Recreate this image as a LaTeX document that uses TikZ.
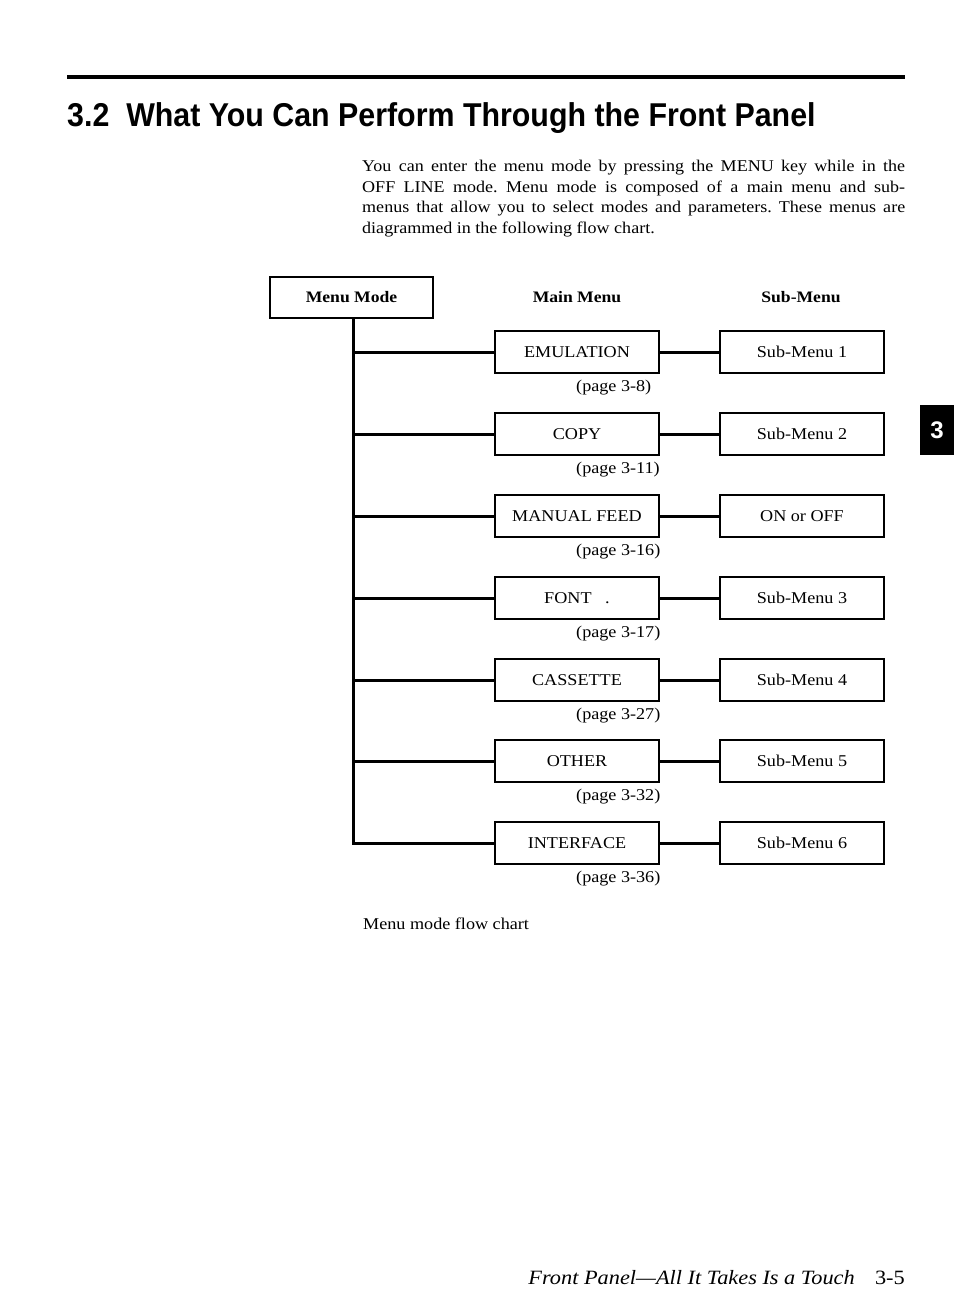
\documentclass[tikz,border=0pt]{standalone}
\usepackage{fontspec}
\setmainfont[FakeStretch=1.1]{Liberation Serif}
\newfontfamily\headfont{Liberation Sans}
\usetikzlibrary{positioning}
\frenchspacing
\tikzstyle{menubox} = [draw, line width=1.3pt, minimum width=164pt, minimum height=42pt, inner sep=0pt, font=\fontsize{16.5}{19}\selectfont]
\tikzstyle{link} = [line width=3pt, line join=miter]
\tikzstyle{pagelabel} = [anchor=west, inner sep=0pt, font=\fontsize{16.5}{19}\selectfont]
\tikzstyle{colhead} = [inner sep=0pt, font=\bfseries\fontsize{16}{18}\selectfont]

\begin{document}
\begin{tikzpicture}[x=1pt,y=-1pt]
        \useasboundingbox (0,0) rectangle (954,1313);

        % Riga e titolo della sezione
        \draw[line width=4pt] (67,77) -- (905,77);
        \node[anchor=base west, inner sep=0pt, font=\headfont\bfseries\fontsize{33}{36}\selectfont] (title) at (67,127)
             {\scalebox{0.92}[1]{3.2\ \ What You Can Perform Through the Front Panel}};

        % Testo introduttivo
        \node[anchor=north west, inner sep=0pt, text width=543pt, align=justify,
              font=\fontsize{16.4}{20.5}\selectfont] (intro) at (362,160)
             {You can enter the menu mode by pressing the MENU key while in the\linebreak
              OFF LINE mode. Menu mode is composed of a main menu and sub-\linebreak
              menus that allow you to select modes and parameters. These menus are\linebreak
              diagrammed in the following flow chart.};

        % Linguetta del capitolo
        \fill (920,405) rectangle (954,455);
        \node[white, font=\headfont\bfseries\fontsize{24}{26}\selectfont] (tab) at (937,430) {3};

        % Intestazioni delle colonne
        \node[draw, line width=1.3pt, minimum width=163pt, minimum height=41pt, inner sep=0pt,
              font=\bfseries\fontsize{16}{18}\selectfont] (mode) at (351.5,297.5) {Menu Mode};
        \node[colhead] (mainhead) at (577,297) {Main Menu};
        \node[colhead] (subhead) at (801,297) {Sub-Menu};
        \coordinate (trunk) at (353,318);

        % Menu principale
        \node[menubox] (emul) at (577,352) {EMULATION};
        \node[menubox] (copy) at (577,434) {COPY};
        \node[menubox] (feed) at (577,516) {MANUAL FEED};
        \node[menubox] (font) at (577,598) {FONT\ \ \ .};
        \node[menubox] (cass) at (577,680) {CASSETTE};
        \node[menubox] (other) at (577,761) {OTHER};
        \node[menubox] (iface) at (577,843) {INTERFACE};

        % Pagine di riferimento
        \node[pagelabel] (pemul) at (576,388) {(page 3-8)};
        \node[pagelabel] (pcopy) at (576,470) {(page 3-11)};
        \node[pagelabel] (pfeed) at (576,552) {(page 3-16)};
        \node[pagelabel] (pfont) at (576,634) {(page 3-17)};
        \node[pagelabel] (pcass) at (576,716) {(page 3-27)};
        \node[pagelabel] (pother) at (576,797) {(page 3-32)};
        \node[pagelabel] (piface) at (576,879) {(page 3-36)};

        % Sottomenu
        \node[menubox] (sub1) at (802,352) {Sub-Menu 1};
        \node[menubox] (sub2) at (802,434) {Sub-Menu 2};
        \node[menubox] (onoff) at (802,516) {ON or OFF};
        \node[menubox] (sub3) at (802,598) {Sub-Menu 3};
        \node[menubox] (sub4) at (802,680) {Sub-Menu 4};
        \node[menubox] (sub5) at (802,761) {Sub-Menu 5};
        \node[menubox] (sub6) at (802,843) {Sub-Menu 6};

        % Collegamenti
        \draw[link] (trunk) |- (iface.west);
        \draw[link] (trunk |- emul.west) -- (emul.west);
        \draw[link] (trunk |- copy.west) -- (copy.west);
        \draw[link] (trunk |- feed.west) -- (feed.west);
        \draw[link] (trunk |- font.west) -- (font.west);
        \draw[link] (trunk |- cass.west) -- (cass.west);
        \draw[link] (trunk |- other.west) -- (other.west);
        \draw[link] (emul) -- (sub1);
        \draw[link] (copy) -- (sub2);
        \draw[link] (feed) -- (onoff);
        \draw[link] (font) -- (sub3);
        \draw[link] (cass) -- (sub4);
        \draw[link] (other) -- (sub5);
        \draw[link] (iface) -- (sub6);

        % Didascalia e pie' di pagina
        \node[anchor=west, inner sep=0pt, font=\fontsize{16.5}{18}\selectfont] (caption) at (363,924) {Menu mode flow chart};
        \node[anchor=base east, inner sep=0pt, font=\fontsize{20.3}{22}\selectfont] (footer) at (905,1284)
             {\textit{Front Panel---All It Takes Is a Touch}\quad 3-5};
\end{tikzpicture}
\end{document}
